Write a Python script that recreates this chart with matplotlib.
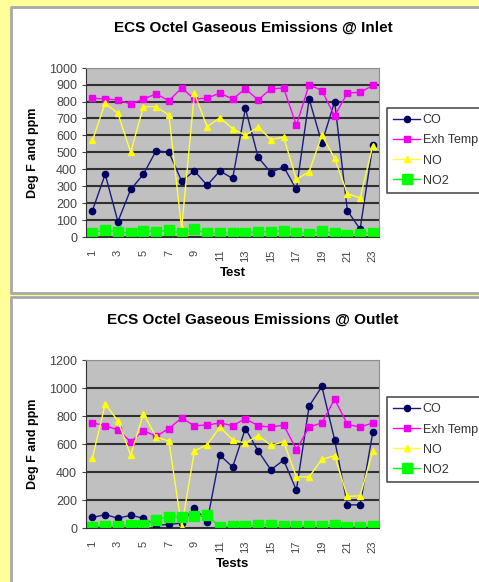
import numpy as np
import matplotlib
matplotlib.use('Agg')
import matplotlib.pyplot as plt
from matplotlib.patches import Rectangle
from matplotlib.lines import Line2D

plt.rcParams['font.family'] = ['Liberation Sans', 'DejaVu Sans']

tests = list(range(1, 24))
tick_labels = [str(t) if t % 2 == 1 else '' for t in tests]
series = ['CO', 'Exh Temp', 'NO', 'NO2']

# inlet readings
in_co = [155, 370, 90, 280, 370, 510, 500, 330, 390, 305, 390, 345, 760, 470,
         380, 415, 280, 815, 555, 800, 155, 45, 545]
in_exh = [820, 815, 810, 785, 815, 845, 805, 880, 815, 820, 850, 815, 875, 810,
          875, 880, 660, 900, 865, 715, 850, 855, 895]
in_no = [570, 790, 730, 500, 770, 770, 720, 50, 850, 650, 705, 640, 600, 650,
         575, 590, 340, 385, 600, 465, 255, 230, 540]
in_no2 = [25, 40, 30, 20, 35, 30, 40, 20, 45, 20, 20, 20, 25, 30,
          30, 35, 25, 15, 35, 20, 10, 15, 25]

# outlet readings
out_co = [75, 95, 70, 90, 70, 20, 25, 35, 145, 45, 520, 435, 710, 550,
          415, 485, 270, 870, 1010, 630, 165, 165, 685]
out_exh = [750, 730, 700, 615, 695, 655, 710, 785, 730, 735, 750, 730, 780, 730,
           720, 735, 560, 720, 750, 920, 740, 720, 750]
out_no = [500, 885, 765, 520, 815, 650, 620, 5, 550, 595, 720, 630, 605, 660,
          590, 615, 365, 365, 490, 515, 225, 230, 550]
out_no2 = [10, 15, 15, 20, 20, 60, 80, 80, 85, 90, 10, 15, 15, 20,
           20, 15, 15, 15, 15, 20, 10, 10, 15]

W, H = 479, 582
fig = plt.figure(figsize=((W + 0.3) / 100, (H + 0.3) / 100), dpi=100)
fig.patch.set_facecolor('#FFFF99')

def fx(px):
    return px / W

def fy(py):
    return 1 - py / H

def open_box(x0, y0, y1, color, lw, z):
    # white box whose right side runs off the picture: draw only 3 sides
    y1c = min(y1, H)
    fig.patches.append(Rectangle((fx(x0), fy(y1c)), 1.0 - fx(x0), (y1c - y0) / H,
                                 transform=fig.transFigure, facecolor='white',
                                 edgecolor='none', zorder=z))
    xs = [1.0, fx(x0), fx(x0)]
    ys = [fy(y0), fy(y0), fy(y1c)]
    if y1 <= H:
        xs.append(1.0)
        ys.append(fy(y1))
    fig.lines.append(Line2D(xs, ys, transform=fig.transFigure, color=color,
                            lw=lw, zorder=z + 0.5))

# white chart panels
open_box(11, 7, 293, '#A8A8A8', 2, -5)
open_box(11, 297, 620, '#A8A8A8', 2, -5)

styles = [dict(color='#1A1A80', marker='o', ms=4.5, mfc='#000060', mec='#000060'),
          dict(color='#FF00FF', marker='s', ms=5, mfc='#EE00EE', mec='#EE00EE'),
          dict(color='#FFFF33', marker='^', ms=5, mfc='#FFFF00', mec='#FFFF00'),
          dict(color='#00FF00', marker='s', ms=7, mfc='#00FF00', mec='#00FF00')]

def chart(top, bot, data, title, xlabel, ymax, ystep, leg_top):
    h = bot - top
    ax = fig.add_axes([fx(86), fy(bot), fx(379 - 86), h / H])
    ax.set_zorder(2)
    ax.set_facecolor('#C0C0C0')
    for vals, name, st in zip(data, series, styles):
        ax.plot(tests, vals, lw=1, label=name, **st)
    ax.set_xlim(0.5, 23.5)
    ax.set_ylim(0, ymax)
    ax.set_yticks(np.arange(0, ymax + 1, ystep))
    ax.yaxis.grid(True, color='#303030', lw=1.5)
    ax.set_axisbelow(True)
    ax.set_xticks(tests)
    ax.set_xticklabels(tick_labels, rotation=90, fontsize=8, color='#444444')
    ax.tick_params(axis='x', length=0, pad=9)
    ax.tick_params(axis='y', labelsize=9, colors='#444444', length=3)
    for s in ['top', 'right']:
        ax.spines[s].set_color('#909090')
    ax.spines['left'].set_color('#303030')
    ax.spines['bottom'].set_color('#303030')
    ax.set_xlabel(xlabel, fontsize=9.5, fontweight='bold')
    ax.xaxis.set_label_coords(0.5, -36 / h)
    ax.xaxis.label.set_va('center')
    ax.set_ylabel('Deg F and ppm', fontsize=9, fontweight='bold')
    ax.yaxis.set_label_coords(-53 / 293, 0.5)
    ax.yaxis.label.set_va('center')
    fig.text(fx(253), fy(top - 40), title, ha='center', va='center',
             fontsize=11, fontweight='bold')
    open_box(387, leg_top, leg_top + 85, '#505050', 1.2, 1)
    leg = ax.legend(loc='upper left', bbox_to_anchor=(fx(387), fy(leg_top)),
                    bbox_transform=fig.transFigure, fontsize=9,
                    frameon=False, handlelength=2.1, labelspacing=0.65,
                    borderaxespad=0, borderpad=0.5, handletextpad=0.25)
    for t in leg.get_texts():
        t.set_color('#333333')
    return ax

chart(68, 237, [in_co, in_exh, in_no, in_no2],
      'ECS Octel Gaseous Emissions @ Inlet', 'Test', 1000, 100, 108)
chart(360, 528, [out_co, out_exh, out_no, out_no2],
      'ECS Octel Gaseous Emissions @ Outlet', 'Tests', 1200, 200, 397)

plt.savefig('out.png', dpi=100, facecolor=fig.get_facecolor())
